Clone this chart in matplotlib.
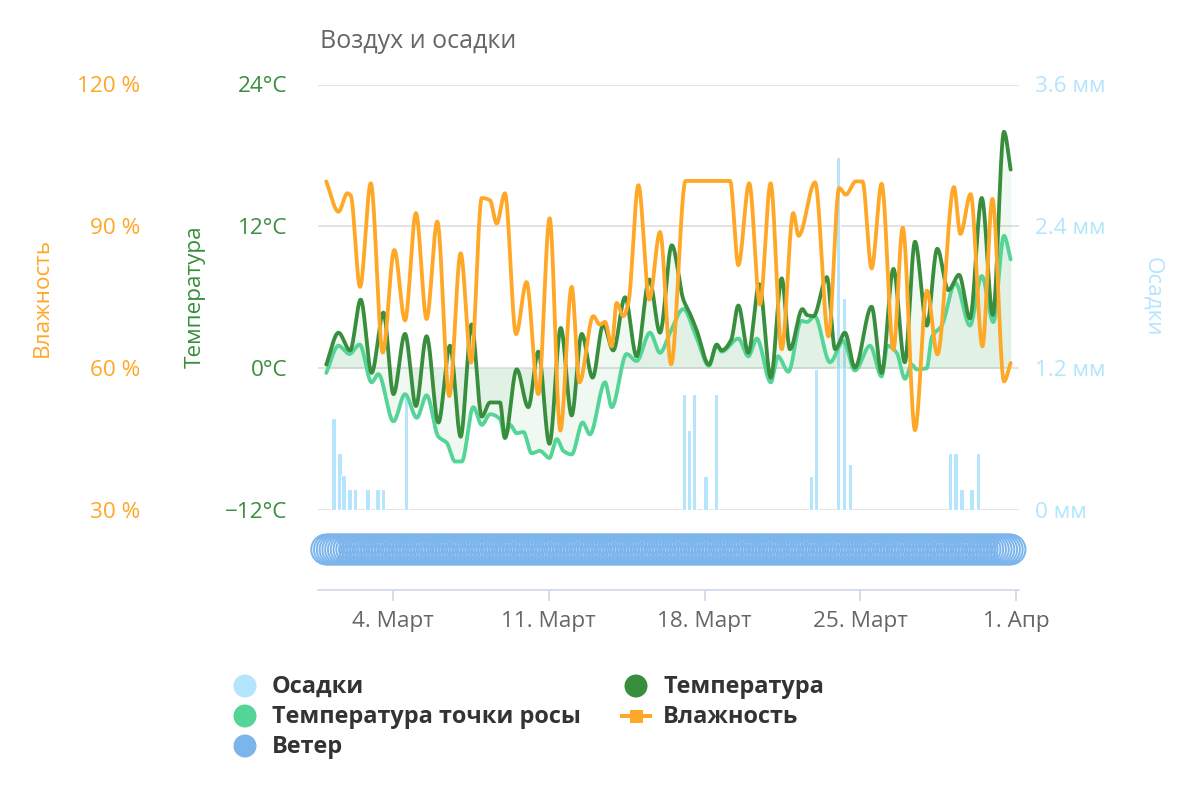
import numpy as np
import matplotlib
matplotlib.use("Agg")
import matplotlib.pyplot as plt

# ---------------- data (days since 1 March 00:00) ----------------
temp_days = [0.0, 0.55, 1.07, 1.55, 2.04, 2.57, 3.02, 3.54, 4.03, 4.51, 5.04, 5.56, 6.04, 6.53,
             6.99, 7.36, 7.81, 8.03, 8.56, 9.08, 9.53, 10.03, 10.54, 11.03, 11.48, 11.97, 12.45,
             12.9, 13.43, 13.95, 14.52, 15.0, 15.53, 16.05, 16.35, 16.65, 17.2, 17.55, 17.77,
             18.2, 18.52, 18.97, 19.46, 19.98, 20.47, 20.84, 21.4, 21.6, 21.9, 22.5, 22.87,
             23.31, 23.76, 24.51, 24.96, 25.49, 26.0, 26.46, 26.99, 27.46, 27.96, 28.44, 28.93,
             29.46, 29.96, 30.46, 30.76]
temp_vals = [0.3, 3.0, 1.5, 5.8, -0.4, 4.7, -2.2, 2.9, -3.2, 2.7, -4.6, 1.9, -5.8, 3.7,
             -4.1, -2.9, -2.9, -5.9, -0.1, -3.3, 1.4, -6.4, 3.4, -4.0, 2.9, -0.8, 3.7,
             1.5, 6.0, 1.0, 7.5, 3.0, 10.4, 5.8, 4.6, 3.2, 0.3, 2.0, 1.5,
             2.4, 5.3, 1.3, 7.1, -0.8, 7.6, 1.6, 5.0, 4.5, 4.4, 7.7, 1.6,
             3.0, 0.05, 5.2, -0.4, 8.4, 0.5, 10.7, 3.6, 10.1, 6.6, 7.9, 4.2,
             14.4, 4.5, 20.0, 16.8]

dew_days = [0.0, 0.55, 1.04, 1.5, 2.04, 2.34, 3.02, 3.54, 4.07, 4.51, 5.04, 5.41, 5.79, 6.09,
            6.61, 6.99, 7.36, 7.81, 8.03, 8.26, 8.56, 8.86, 9.23, 9.6, 10.03, 10.36, 10.66,
            11.03, 11.52, 11.85, 12.53, 12.83, 13.5, 13.95, 14.55, 15.0, 15.45, 16.05, 16.6,
            17.2, 17.55, 17.77, 18.52, 18.97, 19.35, 19.98, 20.3, 20.77, 21.35, 21.6, 21.95,
            22.64, 23.24, 23.76, 24.44, 24.96, 25.22, 25.64, 26.01, 26.31, 26.54, 26.99,
            27.21, 27.66, 28.28, 28.93, 29.46, 29.98, 30.46, 30.76]
dew_vals = [-0.4, 1.9, 1.2, 2.0, -1.2, -0.5, -4.5, -2.2, -4.2, -2.3, -5.8, -6.3, -7.9, -7.9,
            -3.3, -4.8, -3.9, -4.3, -5.9, -4.8, -5.5, -5.4, -7.2, -7.0, -7.6, -6.0, -7.0,
            -7.3, -4.6, -5.6, -1.2, -3.3, 1.2, 0.6, 3.0, 1.3, 3.0, 5.0, 2.8,
            0.2, 1.9, 1.4, 2.5, 1.0, 2.5, -1.2, 1.0, -0.3, 4.0, 3.9, 4.4,
            0.5, 2.3, -0.2, 1.9, -0.7, 1.9, 1.3, -0.9, 0.3, -0.1, 0.0,
            2.6, 3.6, 7.2, 3.6, 7.8, 3.9, 11.2, 9.2]

hum_days = [0.0, 0.55, 0.95, 1.1, 1.52, 2.0, 2.54, 3.06, 3.54, 4.03, 4.51, 4.99, 5.53, 6.04,
            6.51, 6.99, 7.36, 7.66, 8.03, 8.53, 9.0, 9.53, 10.04, 10.52, 11.03, 11.38, 12.0,
            12.3, 12.53, 12.83, 13.05, 13.35, 13.58, 14.03, 14.52, 15.0, 15.5, 16.15, 18.15,
            18.52, 19.01, 19.49, 19.97, 20.47, 20.99, 21.23, 21.97, 22.57, 23.05, 23.35, 23.8,
            24.1, 24.51, 24.96, 25.49, 25.91, 26.46, 27.0, 27.47, 28.21, 28.5, 28.96, 29.49,
            29.94, 30.46, 30.76]
hum_vals = [99.5, 93.1, 97.0, 96.5, 77.2, 99.1, 63.3, 85.0, 70.1, 92.8, 70.4, 91.0, 54.1, 84.3,
            61.2, 96.0, 95.5, 90.6, 97.0, 67.2, 78.2, 54.5, 91.7, 46.8, 77.2, 57.0, 71.0,
            69.2, 69.8, 64.6, 73.8, 71.0, 73.8, 98.7, 74.5, 88.8, 60.8, 99.6, 99.6,
            81.8, 99.1, 73.5, 99.1, 64.0, 92.8, 88.0, 99.3, 66.7, 98.1, 96.7, 99.5,
            99.5, 81.1, 99.0, 63.9, 89.7, 46.9, 76.4, 62.9, 98.3, 88.4, 96.8, 64.6,
            95.8, 57.2, 61.1]

precip_days = [0.32, 0.59, 0.77, 1.04, 1.29, 1.85, 2.31, 2.56, 3.58, 16.08, 16.3, 16.53,
               17.05, 17.52, 21.79, 22.01, 22.99, 23.27, 23.54, 28.03, 28.29, 28.56, 29.01, 29.28]
precip_vals = [0.78, 0.48, 0.30, 0.18, 0.18, 0.18, 0.18, 0.18, 0.96, 0.98, 0.68, 0.98,
               0.29, 0.98, 0.29, 1.19, 2.99, 1.79, 0.39, 0.48, 0.48, 0.18, 0.18, 0.48]

# wind observation times (3-hourly), drawn as calm-wind rings
wind_days = np.arange(0.0, 30.76, 0.125)

tick_days = [3, 10, 17, 24, 31]
tick_labels = ["4. Март", "11. Март", "18. Март", "25. Март", "1. Апр"]
temp_ticks = [24, 12, 0, -12]
temp_labels = ["24°C", "12°C", "0°C", "\u221212°C"]
hum_labels = ["120 %", "90 %", "60 %", "30 %"]
precip_labels = ["3.6 мм", "2.4 мм", "1.2 мм", "0 мм"]

C_TEMP = "#388e3c"
C_DEW = "#55d497"
C_HUM = "#ffa726"
C_PREC = "#b3e5fc"
C_WIND = "#7cb5ec"

plt.rcParams["font.family"] = ["Open Sans", "DejaVu Sans"]


def smooth(xs, ys, n=4000):
    x = np.asarray(xs, float)
    y = np.asarray(ys, float)
    h = np.diff(x)
    d = np.diff(y) / h
    m = np.zeros_like(y)
    for k in range(1, len(x) - 1):
        if d[k - 1] * d[k] > 0:
            w1 = 2 * h[k] + h[k - 1]
            w2 = h[k] + 2 * h[k - 1]
            m[k] = (w1 + w2) / (w1 / d[k - 1] + w2 / d[k])
    m[0] = d[0]
    m[-1] = d[-1]
    xn = np.linspace(x[0], x[-1], n)
    i = np.clip(np.searchsorted(x, xn) - 1, 0, len(h) - 1)
    t = (xn - x[i]) / h[i]
    h00 = 2 * t**3 - 3 * t**2 + 1
    h10 = t**3 - 2 * t**2 + t
    h01 = -2 * t**3 + 3 * t**2
    h11 = t**3 - t**2
    yn = h00 * y[i] + h10 * h[i] * m[i] + h01 * y[i + 1] + h11 * h[i] * m[i + 1]
    return xn, yn


PX = 0.72  # points per pixel at dpi 100
fig = plt.figure(figsize=(12, 8), dpi=100)
fig.patch.set_facecolor("white")

L, R, T, B = 318, 1019, 84.5, 510
x0 = (L - 326.25) / 22.25
x1 = (R - 326.25) / 22.25
rect = [L / 1200, 1 - B / 800, (R - L) / 1200, (B - T) / 800]

axp = fig.add_axes(rect)
axt = axp.twinx()
axh = axp.twinx()
for a in (axp, axt, axh):
    a.set_xlim(x0, x1)
    a.patch.set_visible(False)
    for s in a.spines.values():
        s.set_visible(False)
    a.set_xticks([])
    a.set_yticks([])
axp.set_ylim(0, 3.6)
axt.set_ylim(-12, 24)
axh.set_ylim(30, 120)

for v in [3.6, 2.4, 1.2, 0.0]:
    axp.axhline(v, color="#e3e3e3", lw=2.0 * PX, zorder=0)

axp.bar(precip_days, precip_vals, width=0.2, color=C_PREC, edgecolor="white",
        linewidth=0.8, zorder=2)

xt, yt = smooth(temp_days, temp_vals)
xd, yd = smooth(dew_days, dew_vals)
xh, yh = smooth(hum_days, hum_vals)
axt.fill_between(xt, yt, 0, color="#2e9e4f", alpha=0.07, lw=0, zorder=1)
axt.fill_between(xd, yd, 0, color="#2e9e4f", alpha=0.07, lw=0, zorder=1)
axt.plot(xd, yd, color=C_DEW, lw=3.8 * PX, zorder=3, solid_capstyle="round")
axt.plot(xt, yt, color=C_TEMP, lw=3.8 * PX, zorder=4, solid_capstyle="round")
axh.plot(xh, yh, color=C_HUM, lw=3.8 * PX, zorder=5, solid_capstyle="round")

# wind pane
axw = fig.add_axes([L / 1200, 1 - 590 / 800, (R - L) / 1200, 80 / 800])
axw.set_xlim(x0, x1)
axw.set_ylim(0, 1)
axw.patch.set_visible(False)
for k, s in axw.spines.items():
    s.set_visible(k == "bottom")
axw.spines["bottom"].set_color("#ccd6eb")
axw.spines["bottom"].set_linewidth(1.6 * PX)
axw.set_yticks([])
axw.set_xticks(tick_days)
axw.set_xticklabels(tick_labels)
axw.tick_params(axis="x", direction="out", length=11 * PX, width=1.6 * PX,
                color="#ccd6eb", labelcolor="#666666", labelsize=22.5 * PX, pad=10 * PX)
axw.scatter(wind_days, np.full(len(wind_days), (590 - 549.5) / 80), s=(30 * PX) ** 2,
            facecolors="none", edgecolors=C_WIND, linewidths=2.0 * PX, clip_on=False, zorder=3)

# overlay in pixel coordinates for texts and legend
ov = fig.add_axes([0, 0, 1, 1])
ov.set_xlim(0, 1200)
ov.set_ylim(800, 0)
ov.axis("off")
ov.patch.set_visible(False)

fs = 22.5 * PX
ov.text(320, 42, "Воздух и осадки", ha="left", va="center", color="#666666", fontsize=25 * PX)
gy = [86.5, 228.3, 370.2, 512]
for y, tl, hl, pl in zip(gy, temp_labels, hum_labels, precip_labels):
    ov.text(287, y, tl, ha="right", va="center", color=C_TEMP, fontsize=fs)
    ov.text(140, y, hl, ha="right", va="center", color=C_HUM, fontsize=fs)
    ov.text(1035, y, pl, ha="left", va="center", color=C_PREC, fontsize=fs)
ov.text(42, 297, "Влажность", rotation=90, ha="center", va="center", color=C_HUM, fontsize=fs)
ov.text(195, 297, "Температура", rotation=90, ha="center", va="center", color=C_TEMP, fontsize=fs)
ov.text(1153, 297, "Осадки", rotation=270, ha="center", va="center", color=C_PREC, fontsize=fs)

# legend
leg = [(245, 686, "Осадки", C_PREC, "o"), (245, 716, "Температура точки росы", C_DEW, "o"),
       (245, 746, "Ветер", C_WIND, "o"), (636, 686, "Температура", C_TEMP, "o"),
       (636, 716, "Влажность", C_HUM, "s")]
for x, y, lab, c, mk in leg:
    if mk == "o":
        ov.scatter([x], [y], s=(23 * PX) ** 2, color=c, edgecolors="none")
    else:
        ov.plot([x - 16, x + 16], [y, y], color=c, lw=4 * PX, solid_capstyle="butt")
        ov.scatter([x], [y], s=(13 * PX) ** 2, marker="s", color=c, edgecolors="none")
    ov.text(x + 27, y + 1, lab, ha="left", va="center", color="#333333", fontsize=23.5 * PX,
            fontweight="bold")

fig.savefig("out.png", dpi=100, facecolor="white")
